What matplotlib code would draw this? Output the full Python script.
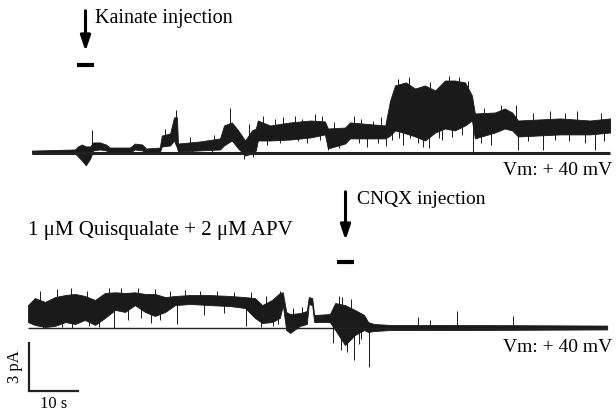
import numpy as np
import matplotlib
matplotlib.use("Agg")
import matplotlib.pyplot as plt

plt.rcParams["font.family"] = ["Liberation Serif", "DejaVu Serif"]

# top trace (kainate): time in s, upper / lower edge of the noisy trace in pA
top_t = [0.8, 9.6, 10.2, 11.0, 11.8, 12.7, 13.3, 14.7, 15.9, 16.7, 20.8, 21.8,
         23.3, 24.1, 26.9, 27.3, 29.0, 29.8, 30.4, 30.6, 35.1, 39.2, 40.0, 41.6,
         42.9, 44.3, 45.7, 46.5, 46.9, 49.4, 53.5, 57.6, 60.6, 61.2, 64.7, 65.7,
         72.9, 73.9, 74.9, 77.1, 79.0, 81.0, 83.1, 85.1, 87.1, 89.2, 90.6, 91.2,
         95.3, 97.3, 98.8, 100.0, 108.6, 114.7, 118.8]
top_hi = [0.12, 0.19, 0.38, 0.50, 0.38, 0.38, 0.63, 0.63, 0.50, 0.31, 0.31, 0.56,
          0.50, 0.25, 0.31, 1.06, 1.19, 2.20, 2.20, 0.56, 0.69, 0.88, 1.69, 1.88,
          1.38, 0.75, 1.38, 1.50, 2.00, 1.69, 1.88, 2.00, 1.94, 1.50, 1.56, 1.88,
          1.69, 3.25, 4.19, 4.38, 4.00, 4.19, 3.88, 4.50, 4.50, 4.38, 3.56, 2.44,
          2.50, 2.75, 2.50, 2.00, 2.13, 2.00, 2.13]
top_lo = [-0.06, -0.06, -0.25, -0.50, -0.80, -0.38, 0.13, 0.19, 0.13, 0.00, 0.00, 0.19,
          0.13, 0.00, 0.00, 0.38, 0.44, 0.75, 0.30, 0.06, 0.13, 0.19, 0.44, 0.75,
          0.25, -0.19, -0.06, 0.13, 0.75, 0.75, 0.81, 0.94, 1.13, 0.25, 0.56, 0.88,
          0.88, 1.06, 1.38, 1.19, 1.00, 0.75, 1.25, 1.50, 1.38, 1.69, 2.00, 0.88,
          1.25, 1.50, 1.38, 1.00, 1.13, 1.13, 1.25]
# single openings / closures sticking out of the band (time s, tip pA)
top_spike_t = [13.1, 30.2, 41.2, 61.2, 69.2, 73.0, 76.6, 78.0, 80.6, 84.5,
               90.8, 100.0, 105.1, 113.7, 115.7,
               28.0, 33.0, 38.0, 45.0, 31.5, 33.5, 37.5, 44.0, 46.0,
               48.0, 50.5, 52.0, 54.5, 56.0, 58.5, 60.0, 62.5, 66.5, 68.0, 70.5, 72.0,
               48.8, 51.5, 55.0, 57.0, 59.5, 63.5, 67.5, 71.5,
               75.5, 77.8, 82.0, 86.0, 88.0, 89.8,
               74.2, 75.8, 79.5, 81.8, 83.8, 86.5, 88.5,
               93.0, 96.5, 99.5, 103.0, 106.5, 109.5, 112.0, 117.0,
               92.5, 94.5, 102.0, 107.5, 110.5, 117.5]
top_spike_v = [1.38, 2.63, 2.80, 0.15, 0.34, 0.40, 0.50, 0.90, 0.35, 0.80,
               0.00, 0.16, 0.16, 0.60, 0.16,
               1.50, 1.00, 1.10, 1.80, 0.10, 0.05, 0.05, -0.40, -0.30,
               2.30, 2.10, 2.20, 2.30, 2.10, 2.40, 2.30, 1.90, 2.30, 2.10, 2.00, 2.20,
               0.50, 0.60, 0.70, 0.60, 0.80, 0.30, 0.60, 0.60,
               4.60, 4.70, 4.40, 4.80, 4.70, 4.50,
               0.80, 0.90, 0.60, 0.30, 0.90, 1.00, 1.10,
               2.80, 3.00, 3.00, 2.50, 2.60, 2.50, 2.60, 2.50,
               0.60, 0.50, 0.70, 0.80, 0.70, 0.70]

# bottom trace (quisqualate + APV, then CNQX)
bot_t = [0.0, 1.4, 3.5, 5.5, 7.6, 9.6, 11.6, 13.7, 15.7, 17.8, 19.8, 21.8, 23.9,
         25.9, 28.0, 30.0, 33.1, 37.1, 41.2, 44.3, 46.3, 47.8, 49.8, 51.4, 52.0,
         52.7, 53.5, 55.5, 56.9, 57.3, 58.0, 58.4, 61.6, 62.7, 64.7, 66.7, 68.6,
         69.4, 70.6, 73.9, 86.1, 118.2]
bot_hi = [1.40, 1.84, 1.60, 1.90, 2.03, 2.10, 1.97, 1.72, 2.16, 2.20, 2.16, 2.20, 2.10,
          2.10, 1.90, 1.97, 2.03, 2.03, 1.97, 1.90, 1.84, 1.40, 1.72, 2.16, 2.20,
          0.97, 0.84, 0.90, 1.03, 1.90, 1.84, 0.78, 0.84, 1.53, 1.40, 1.10, 0.78,
          0.34, 0.22, 0.16, 0.16, 0.12]
bot_lo = [0.34, 0.16, 0.03, 0.10, 0.34, 0.22, 0.47, 0.16, 0.60, 1.10, 0.97, 1.40, 0.97,
          0.72, 0.97, 1.40, 1.47, 1.40, 1.34, 1.22, 0.60, 0.28, 0.34, 0.60, 1.40,
          -0.16, -0.34, 0.10, 0.22, 1.47, 1.40, 0.34, 0.34, -0.16, -1.10, -0.47, -0.16,
          -0.28, -0.22, -0.16, -0.16, -0.12]
bot_spike_t = [17.6, 30.4, 36.0, 44.5, 51.0, 62.2, 65.1, 66.5, 69.6,
               79.6, 82.0, 87.6, 99.0,
               2.5, 6.0, 8.8, 12.0, 16.5, 19.0, 22.5, 26.0, 29.0, 32.0, 35.0, 38.5,
               42.0, 45.5, 48.5, 51.5,
               3.0, 7.0, 9.0, 12.5, 14.5, 20.5, 23.0, 25.0, 27.0, 40.0, 47.5, 50.0,
               54.0, 56.0, 63.5, 64.0, 66.0, 63.8, 67.5, 68.0]
bot_spike_v = [0.00, 0.20, 0.80, 0.10, 0.20, -0.97, -1.53, -2.03, -2.47,
               0.66, 0.50, 1.03, 0.72,
               2.30, 2.40, 2.50, 2.30, 2.50, 2.45, 2.50, 2.40, 2.30, 2.35, 2.30, 2.30,
               2.25, 2.20, 2.00, 2.30,
               0.00, 0.05, 0.00, 0.10, 0.05, 0.50, 0.60, 0.30, 0.50, 0.90, 0.05, 0.10,
               1.20, 1.30, 2.00, 1.90, 1.80, -1.40, -1.00, -0.70]

# injection marks (s)
kainate_inj = (10.0, 13.5)
cnqx_inj = (63.0, 66.5)

# layout: pixels -> data (4.9 px per s, 16 px per pA)
W, H = 616, 412
PX_S, PX_PA = 4.9, 16.0
X0 = 28
TOP_BASE = (H - 152.5) / PX_PA
BOT_BASE = (H - 327.5) / PX_PA


def fx(x):
    return x / W


def fy(y):
    return 1 - y / H


def draw_trace(ax, t, hi, lo, st, sv, base, base_x, base_lw):
    t = np.array(t)
    hi = np.array(hi) + base
    lo = np.array(lo) + base
    ax.plot(base_x, [base, base], color="#222222", lw=base_lw, solid_capstyle="butt")
    ax.fill_between(t, lo, hi, color="#1a1a1a", lw=0.6, edgecolor="#1a1a1a")
    mid = np.interp(st, t, (hi + lo) / 2)
    ax.vlines(st, mid, np.array(sv) + base, color="#1a1a1a", lw=0.7)


def main():
    fig = plt.figure(figsize=(W / 100, H / 100), dpi=100)
    ax = fig.add_axes([0, 0, 1, 1])
    ax.set_xlim(-X0 / PX_S, (W - X0) / PX_S)
    ax.set_ylim(0, H / PX_PA)
    ax.axis("off")

    draw_trace(ax, top_t, top_hi, top_lo, top_spike_t, top_spike_v,
               TOP_BASE, [0.8, 118.8], 2.2)
    draw_trace(ax, bot_t, bot_hi, bot_lo, bot_spike_t, bot_spike_v,
               BOT_BASE, [0.0, 118.2], 1.0)

    # injection bars
    ax.plot(kainate_inj, [(H - 64.5) / PX_PA] * 2, color="black", lw=3, solid_capstyle="butt")
    ax.plot(cnqx_inj, [(H - 261.5) / PX_PA] * 2, color="black", lw=3, solid_capstyle="butt")

    # arrows
    arrow = dict(arrowstyle="-|>,head_length=0.9,head_width=0.3", color="black", lw=2.2)
    fig.add_artist(plt.Annotation("", xy=(fx(85.5), fy(54)), xytext=(fx(85.5), fy(8)),
                                  xycoords="figure fraction", textcoords="figure fraction",
                                  arrowprops=arrow))
    fig.add_artist(plt.Annotation("", xy=(fx(345.5), fy(243)), xytext=(fx(345.5), fy(189)),
                                  xycoords="figure fraction", textcoords="figure fraction",
                                  arrowprops=arrow))

    fig.text(fx(95), fy(19), "Kainate injection", fontsize=14.5, va="center", ha="left")
    fig.text(fx(357), fy(200), "CNQX injection", fontsize=14, va="center", ha="left")
    fig.text(fx(28), fy(231), "1 \u03bcM Quisqualate + 2 \u03bcM APV", fontsize=15,
             va="center", ha="left")
    fig.text(fx(612), fy(170), "Vm: + 40 mV", fontsize=14, va="center", ha="right")
    fig.text(fx(612), fy(348), "Vm: + 40 mV", fontsize=14, va="center", ha="right")

    # scale bar: 10 s, 3 pA
    sb_t0 = 0.2
    sb_y0 = (H - 391) / PX_PA
    ax.plot([sb_t0, sb_t0, sb_t0 + 10], [sb_y0 + 3, sb_y0, sb_y0], color="#222222",
            lw=1.6, solid_joinstyle="miter")
    fig.text(fx(15), fy(367), "3 pA", fontsize=12, rotation=90, va="center", ha="center")
    fig.text(fx(54), fy(404), "10 s", fontsize=12, va="center", ha="center")

    fig.savefig("out.png", dpi=100)


if __name__ == "__main__":
    main()
